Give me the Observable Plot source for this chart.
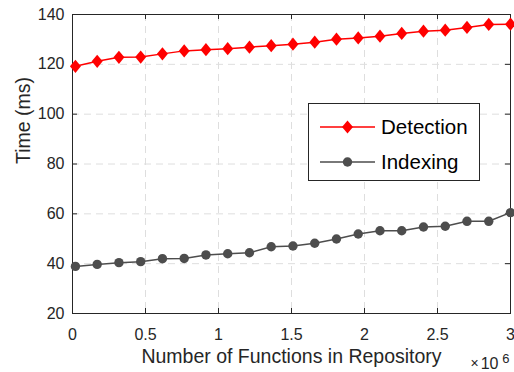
<!DOCTYPE html>
<html>
<head>
<meta charset="utf-8">
<script src="https://cdn.jsdelivr.net/npm/d3@7"></script>
<script src="https://cdn.jsdelivr.net/npm/@observablehq/plot@0.6"></script>
<style>
  html, body { margin: 0; padding: 0; background: #fff; }
  #wrap { position: relative; width: 514px; height: 372px; font-family: "Liberation Sans", Arial, sans-serif; }
  #legend { position: absolute; left: 308px; top: 103px; width: 170px; height: 76px; border: 1px solid #262626; background: #fff; }
</style>
</head>
<body>
<div id="wrap"><div id="chart"></div><div id="legend"></div></div>
<script>
// x in millions of functions
const functions = [0.02, 0.169, 0.318, 0.467, 0.616, 0.765, 0.914, 1.063, 1.212, 1.361, 1.51, 1.659, 1.808, 1.957, 2.106, 2.255, 2.404, 2.553, 2.702, 2.851, 3.0];
const detection = [119.2, 121.2, 122.8, 122.9, 124.2, 125.4, 125.9, 126.3, 126.9, 127.5, 128.1, 128.9, 130.1, 130.6, 131.3, 132.4, 133.3, 133.7, 134.8, 136.0, 136.1];
const indexing = [38.9, 39.7, 40.4, 40.8, 42.0, 42.1, 43.5, 44.0, 44.4, 46.8, 47.1, 48.2, 49.9, 51.9, 53.2, 53.2, 54.7, 55.0, 57.0, 57.0, 60.5];
const xTicks = [0, 0.5, 1, 1.5, 2, 2.5, 3];
const yTicks = [20, 40, 60, 80, 100, 120, 140];
const seriesNames = ["Detection", "Indexing"];
const seriesColors = ["#ff0000", "#4d4d4d"];

const det = functions.map((x, i) => ({x, y: detection[i]}));
const idx = functions.map((x, i) => ({x, y: indexing[i]}));

const diamond = {
  draw(context, size) {
    const r = Math.sqrt(size / Math.PI);
    const h = r * 1.2, w = r * 1.0;
    context.moveTo(0, -h); context.lineTo(w, 0); context.lineTo(0, h); context.lineTo(-w, 0); context.closePath();
  }
};

const W = 514, H = 372, mL = 72, mR = 4, mT = 14, mB = 59;
const pw = W - mL - mR, ph = H - mT - mB;
const axisColor = "#262626";
const grid = "#dedede";
const font = "Liberation Sans, Arial, sans-serif";

const chart = Plot.plot({
  width: W, height: H,
  marginLeft: mL, marginRight: mR, marginTop: mT, marginBottom: mB,
  style: {fontFamily: font, background: "#fff", color: axisColor, overflow: "visible"},
  x: {domain: [0, 3]},
  y: {domain: [20, 140]},
  marks: [
    Plot.ruleX(xTicks.slice(1, -1), {x: d => d, stroke: grid, strokeDasharray: "7,5", strokeWidth: 1}),
    Plot.ruleY(yTicks.slice(1, -1), {y: d => d, stroke: grid, strokeDasharray: "7,5", strokeWidth: 1}),
    // inward ticks
    Plot.tickX(xTicks, {x: d => d, insetTop: ph - 5, stroke: axisColor}),
    Plot.tickX(xTicks, {x: d => d, insetBottom: ph - 5, stroke: axisColor}),
    Plot.tickY(yTicks, {y: d => d, insetRight: pw - 5, stroke: axisColor}),
    Plot.tickY(yTicks, {y: d => d, insetLeft: pw - 5, stroke: axisColor}),
    Plot.axisX(xTicks, {anchor: "bottom", tickSize: 0, tickPadding: 15, fontSize: 16, label: null, tickFormat: d => String(d), fill: axisColor}),
    Plot.axisY(yTicks, {anchor: "left", tickSize: 0, tickPadding: 8, fontSize: 16, label: null, tickFormat: d => String(d), fill: axisColor}),
    Plot.frame({stroke: axisColor, strokeWidth: 1}),
    Plot.line(idx, {x: "x", y: "y", stroke: seriesColors[1], strokeWidth: 1.5}),
    Plot.dot(idx, {x: "x", y: "y", r: 4.7, fill: seriesColors[1], stroke: null, symbol: "circle"}),
    Plot.line(det, {x: "x", y: "y", stroke: seriesColors[0], strokeWidth: 1.5}),
    Plot.dot(det, {x: "x", y: "y", r: 5.5, fill: seriesColors[0], stroke: null, symbol: diamond}),
    Plot.text(["Number of Functions in Repository"], {frameAnchor: "bottom", dy: 49, fontSize: 19.5, fill: axisColor}),
    Plot.text(["Time (ms)"], {frameAnchor: "left", dx: -49, rotate: -90, fontSize: 19.5, fill: axisColor}),
    Plot.text(["×"], {frameAnchor: "bottom-right", dx: -36, dy: 54.5, fontSize: 14, fill: axisColor, textAnchor: "middle"}),
    Plot.text(["10"], {frameAnchor: "bottom-right", dx: -12, dy: 55, fontSize: 16, fill: axisColor, textAnchor: "end"}),
    Plot.text(["6"], {frameAnchor: "bottom-right", dx: -1, dy: 49.5, fontSize: 13, fill: axisColor, textAnchor: "end"})
  ]
});
document.getElementById("chart").appendChild(chart);

// legend
const lsvg = d3.select("#legend").append("svg").attr("width", 170).attr("height", 76);
const rowsY = [23, 58];
seriesNames.forEach((name, i) => {
  const g = lsvg.append("g").attr("transform", `translate(0,${rowsY[i]})`);
  g.append("line").attr("x1", 11).attr("x2", 66).attr("y1", 0).attr("y2", 0).attr("stroke", seriesColors[i]).attr("stroke-width", 1.5);
  if (i === 0) {
    g.append("path").attr("d", d3.symbol(diamond, 5.5 * 5.5 * Math.PI)()).attr("transform", "translate(38.5,0)").attr("fill", seriesColors[i]);
  } else {
    g.append("circle").attr("cx", 38.5).attr("cy", 0).attr("r", 4.7).attr("fill", seriesColors[i]);
  }
  g.append("text").attr("x", 72).attr("y", 0).attr("dy", "0.35em").attr("font-size", 20.5).attr("font-family", font).attr("fill", "#000").text(name);
});
</script>
</body>
</html>
